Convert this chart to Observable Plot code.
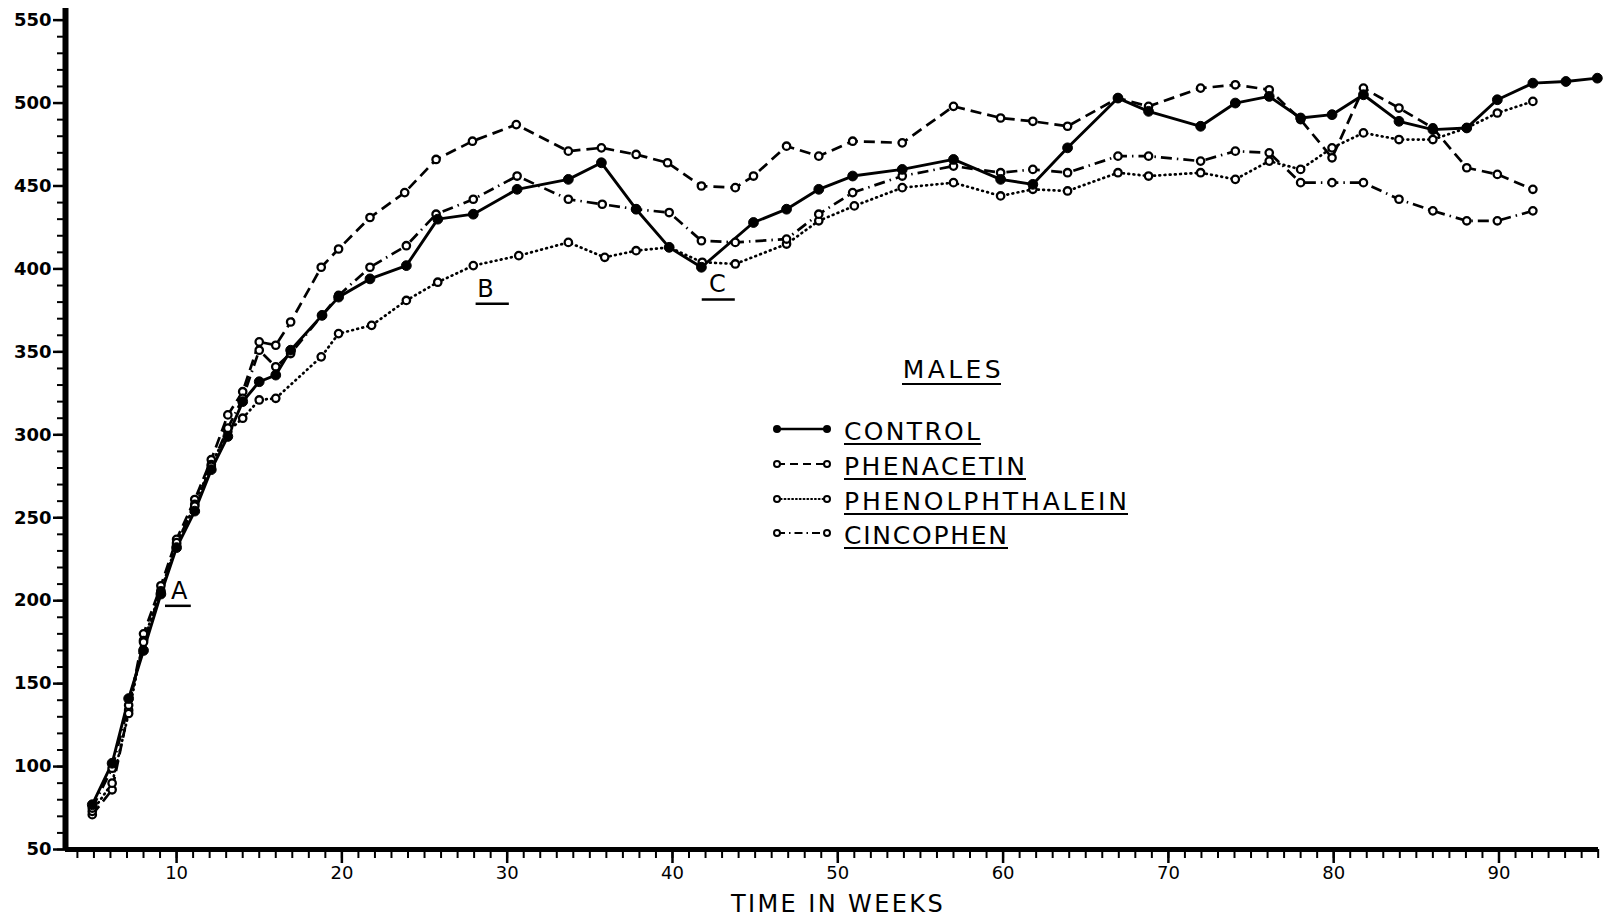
<!DOCTYPE html>
<html>
<head>
<meta charset="utf-8">
<script src="https://cdn.jsdelivr.net/npm/d3@7"></script>
<script src="https://cdn.jsdelivr.net/npm/@observablehq/plot@0.6"></script>
<style>
html,body{margin:0;padding:0;background:#fff;}
#chart{position:relative;width:1603px;height:922px;overflow:hidden;}
</style>
</head>
<body>
<div id="chart"></div>
<script>
// ---- Data (body weight, grams, vs. time in weeks) ----
const controlWeeks = [4.9,6.1,7.1,8.0,9.05,10.0,11.1,12.1,13.1,14.0,15.0,16.0,16.9,18.8,19.8,21.7,23.9,25.8,27.95,30.6,33.7,35.7,37.8,39.8,41.75,44.9,46.9,48.85,50.9,53.9,57.0,59.85,61.8,63.9,66.95,68.8,71.95,74.05,76.1,78.0,79.9,81.8,83.95,86.0,88.05,89.9,92.05,94.05,95.95];
const controlWeight = [77,102,141,170,204,232,254,279,299,320,332,336,351,372,383,394,402,430,433,448,454,464,436,413,401,428,436,448,456,460,466,454,451,473,503,495,486,500,504,491,493,505,489,484,485,502,512,513,515];

const phenacetinWeeks = [4.9,6.1,7.1,8.0,9.05,10.0,11.1,12.1,13.1,14.0,15.0,16.0,16.9,18.75,19.8,21.7,23.8,25.7,27.9,30.55,33.7,35.7,37.8,39.7,41.75,43.8,44.9,46.9,48.85,50.9,53.9,57.0,59.85,61.8,63.9,66.95,68.8,71.95,74.05,76.1,78.0,79.9,81.8,83.95,86.0,88.05,89.9,92.05];
const phenacetinWeight = [71,86,134,180,209,237,261,285,312,326,356,354,368,401,412,431,446,466,477,487,471,473,469,464,450,449,456,474,468,477,476,498,491,489,486,503,498,509,511,508,490,467,509,497,485,461,457,448];

const phenolphthaleinWeeks = [4.9,6.1,7.1,8.0,9.05,10.0,11.1,12.1,13.1,14.0,15.0,16.0,18.75,19.8,21.8,23.9,25.8,27.95,30.7,33.7,35.9,37.8,39.8,41.8,43.8,46.9,48.85,51.0,53.9,57.0,59.85,61.8,63.9,66.95,68.8,71.95,74.05,76.1,78.0,79.9,81.8,83.95,86.0,88.05,89.9,92.05];
const phenolphthaleinWeight = [73,90,132,176,206,234,258,282,302,310,321,322,347,361,366,381,392,402,408,416,407,411,413,404,403,415,429,438,449,452,444,448,447,458,456,458,454,465,460,473,482,478,478,485,494,501];

const cincophenWeeks = [4.9,6.1,7.1,8.0,9.05,10.0,11.1,12.1,13.1,14.0,15.0,16.0,16.9,18.8,19.8,21.7,23.9,25.7,27.95,30.6,33.7,35.75,37.8,39.8,41.75,43.8,46.9,48.85,50.9,53.9,57.0,59.85,61.8,63.9,66.95,68.8,71.95,74.05,76.1,78.0,79.9,81.8,83.95,86.0,88.05,89.9,92.05];
const cincophenWeight = [75,99,137,175,205,235,257,281,304,322,351,341,349,372,384,401,414,433,442,456,442,439,436,434,417,416,418,433,446,456,462,458,460,458,468,468,465,471,470,452,452,452,442,435,429,429,435];

const seriesNames = ["CONTROL","PHENACETIN","PHENOLPHTHALEIN","CINCOPHEN"];
const yTickValues = [50,100,150,200,250,300,350,400,450,500,550];
const xTickValues = [10,20,30,40,50,60,70,80,90];
const yMinorValues = d3.range(50, 551, 10);
const xMinorValues = d3.range(4, 97, 1);

// Annotations (letters marking periods)
const noteLabels = ["A","B","C"];
const noteWeeks = [10.16, 28.69, 42.71];
const noteWeights = [205.6, 388, 390.6];
const noteLineFrom = [9.33, 28.12, 41.8];
const noteLineTo = [10.89, 30.13, 43.8];
const noteLineWeights = [196.9, 379, 381.6];

const xTitle = "TIME IN WEEKS";
const legendTitle = "MALES";

// ---- Build table ----
const rows = [];
function addSeries(name, weeks, weights) {
  weeks.forEach((w, i) => rows.push({series: name, week: w, weight: weights[i]}));
}
addSeries("CONTROL", controlWeeks, controlWeight);
addSeries("PHENACETIN", phenacetinWeeks, phenacetinWeight);
addSeries("PHENOLPHTHALEIN", phenolphthaleinWeeks, phenolphthaleinWeight);
addSeries("CINCOPHEN", cincophenWeeks, cincophenWeight);

const notes = noteLabels.map((t, i) => ({t, week: noteWeeks[i], weight: noteWeights[i], x1: noteLineFrom[i], x2: noteLineTo[i], yl: noteLineWeights[i]}));

const styles = {
  CONTROL: {dash: null, width: 2.9},
  PHENACETIN: {dash: "11,6", width: 2.7},
  PHENOLPHTHALEIN: {dash: "0.8,4.4", width: 2.7},
  CINCOPHEN: {dash: "11,5,1.5,5", width: 2.7}
};

const lineMarks = seriesNames.map(name => Plot.line(rows.filter(d => d.series === name), {
  x: "week", y: "weight", stroke: "black", strokeWidth: styles[name].width,
  strokeDasharray: styles[name].dash, strokeLinecap: name === "PHENOLPHTHALEIN" ? "round" : "butt",
  strokeLinejoin: "round"
}));

const openRows = rows.filter(d => d.series !== "CONTROL");
const filledRows = rows.filter(d => d.series === "CONTROL");

const plot = Plot.plot({
  width: 1603,
  height: 922,
  marginLeft: 65,
  marginRight: 5,
  marginTop: 8,
  marginBottom: 73,
  x: {domain: [3.28, 96.02]},
  y: {domain: [50, 557]},
  style: {fontFamily: "'DejaVu Sans', sans-serif", background: "white", color: "black"},
  marks: [
    Plot.axisY(yMinorValues, {tickSize: 8, fill: "none", strokeWidth: 2, label: null}),
    Plot.axisY(yTickValues, {tickSize: 12, tickPadding: 2, fontSize: 18, fontWeight: "bold", strokeWidth: 2.5, label: null}),
    Plot.axisX(xMinorValues, {tickSize: 9, fill: "none", strokeWidth: 2, label: null}),
    Plot.axisX(xTickValues, {tickSize: 14, tickPadding: 3, fontSize: 18, strokeWidth: 2.5, label: null}),
    Plot.ruleX([3.28], {stroke: "black", strokeWidth: 6}),
    Plot.ruleY([50], {stroke: "black", strokeWidth: 5}),
    ...lineMarks,
    Plot.dot(openRows, {x: "week", y: "weight", r: 3.7, fill: "white", stroke: "black", strokeWidth: 2.3}),
    Plot.dot(filledRows, {x: "week", y: "weight", r: 4.9, fill: "black", stroke: "black", strokeWidth: 1}),
    Plot.text(notes, {x: "week", y: "weight", text: "t", fontSize: 24}),
    Plot.ruleY(notes, {y: "yl", x1: "x1", x2: "x2", stroke: "black", strokeWidth: 2.5}),
    Plot.text([xTitle], {frameAnchor: "bottom", dy: 62, dx: 6, fontSize: 24})
  ]
});

document.getElementById("chart").append(plot);

// letter spacing for axis title
d3.select(plot).selectAll("text").filter(function() { return this.textContent === xTitle; })
  .attr("letter-spacing", 2.4);

// ---- Legend (inside plot area) ----
const svg = d3.select(plot);
const lg = svg.append("g").attr("font-family", "'DejaVu Sans', sans-serif").attr("font-size", 25)
  .attr("fill", "black").attr("text-anchor", "start");
lg.append("text").attr("x", 902.7).attr("y", 378.3).attr("text-anchor", "start")
  .attr("textLength", 98).text(legendTitle);
lg.append("line").attr("x1", 902).attr("x2", 1001).attr("y1", 384).attr("y2", 384).attr("stroke", "black").attr("stroke-width", 2);

const legendRowsY = [431, 466, 501, 535];
const legendWidths = [136, 181, 283, 163];
seriesNames.forEach((name, i) => {
  const cy = legendRowsY[i];
  lg.append("line").attr("x1", 777).attr("x2", 827).attr("y1", cy - 2).attr("y2", cy - 2)
    .attr("stroke", "black").attr("stroke-width", i === 0 ? 2.6 : 2.2)
    .attr("stroke-dasharray", i === 0 ? null : (i === 1 ? "8,5" : i === 2 ? "0.8,3" : "8,4,1.5,4"))
    .attr("stroke-linecap", i === 2 ? "round" : "butt");
  [777, 827].forEach(x => {
    if (i === 0) lg.append("circle").attr("cx", x).attr("cy", cy - 2).attr("r", 4).attr("fill", "black");
    else lg.append("circle").attr("cx", x).attr("cy", cy - 2).attr("r", 3).attr("fill", "white").attr("stroke", "black").attr("stroke-width", 2);
  });
  lg.append("text").attr("x", 844).attr("y", cy + 9).attr("text-anchor", "start")
    .attr("textLength", legendWidths[i]).text(name);
  lg.append("line").attr("x1", 844).attr("x2", 844 + legendWidths[i] + 1).attr("y1", cy + 13).attr("y2", cy + 13)
    .attr("stroke", "black").attr("stroke-width", 2);
});
</script>
</body>
</html>
